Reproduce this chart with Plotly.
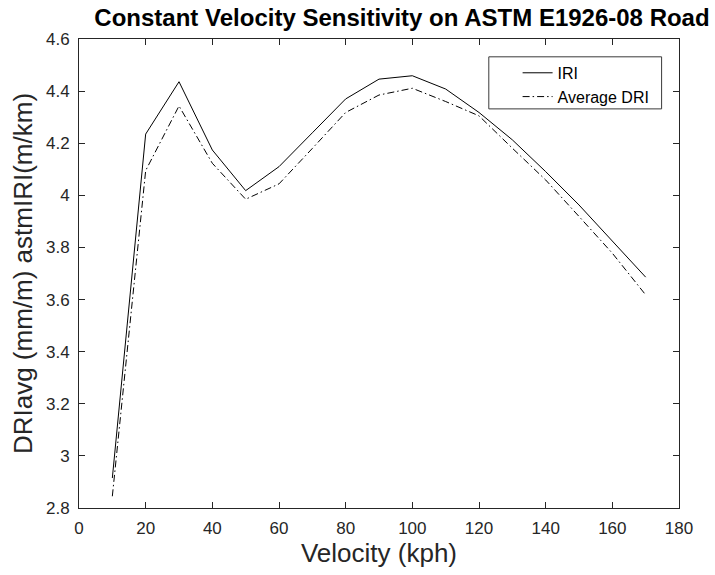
import plotly.graph_objects as go

velocity = [10, 20, 30, 40, 50, 60, 70, 80, 90, 100, 110, 120, 130, 140, 150, 160, 170]
iri = [2.915, 4.235, 4.436, 4.174, 4.018, 4.110, 4.24, 4.370, 4.446, 4.459, 4.408, 4.318, 4.213, 4.091, 3.963, 3.823, 3.686]
avg_dri = [2.845, 4.095, 4.343, 4.123, 3.985, 4.044, 4.18, 4.318, 4.385, 4.411, 4.360, 4.305, 4.181, 4.059, 3.919, 3.778, 3.618]

x_ticks = [0, 20, 40, 60, 80, 100, 120, 140, 160, 180]
y_ticks = [2.8, 3.0, 3.2, 3.4, 3.6, 3.8, 4.0, 4.2, 4.4, 4.6]
y_tick_labels = ["2.8", "3", "3.2", "3.4", "3.6", "3.8", "4", "4.2", "4.4", "4.6"]

axis_color = "#262626"
font_family = "Liberation Sans, Arial, sans-serif"

fig = go.Figure()
fig.add_trace(go.Scatter(x=velocity, y=iri, mode="lines", name="IRI",
                         line=dict(color="black", width=1)))
fig.add_trace(go.Scatter(x=velocity, y=avg_dri, mode="lines", name="Average DRI",
                         line=dict(color="black", width=1, dash="7px,3px,1.5px,3px")))

# legend frame (MATLAB-style wide box)
fig.add_shape(type="rect", xref="paper", yref="paper",
              x0=0.683, x1=0.971, y0=0.851, y1=0.962,
              line=dict(color="#3a3a3a", width=1), fillcolor="white", layer="below")

fig.update_layout(
    width=715, height=575,
    margin=dict(l=79, r=36, t=39, b=67),
    paper_bgcolor="white", plot_bgcolor="white",
    font=dict(family=font_family, color=axis_color),
    title=dict(text="<b>Constant Velocity Sensitivity on ASTM E1926-08 Road</b>",
               x=402/715, xref="container", xanchor="center",
               y=1-18/575, yref="container", yanchor="middle",
               font=dict(size=24, color="black", family=font_family)),
    showlegend=True,
    legend=dict(x=0.731, y=0.964, xanchor="left", yanchor="top",
                bgcolor="rgba(0,0,0,0)", borderwidth=0,
                font=dict(size=16, color="black"), tracegroupgap=0,
                itemwidth=30),
)
fig.update_xaxes(range=[0, 180], tickvals=x_ticks, ticks="inside", ticklen=6,
                 showline=True, linecolor=axis_color, linewidth=1, mirror="ticks",
                 showgrid=False, zeroline=False, tickcolor=axis_color,
                 tickfont=dict(size=17, color=axis_color), ticklabelstandoff=5,
                 title=dict(text="Velocity (kph)", font=dict(size=26, color=axis_color), standoff=6))
fig.update_yaxes(range=[2.8, 4.6], tickvals=y_ticks, ticktext=y_tick_labels,
                 ticks="inside", ticklen=6,
                 showline=True, linecolor=axis_color, linewidth=1, mirror="ticks",
                 showgrid=False, zeroline=False, tickcolor=axis_color,
                 tickfont=dict(size=17, color=axis_color), ticklabelstandoff=5,
                 title=dict(text="DRIavg (mm/m) astmIRI(m/km)", font=dict(size=26, color=axis_color), standoff=5))

fig.write_html("out.html")
